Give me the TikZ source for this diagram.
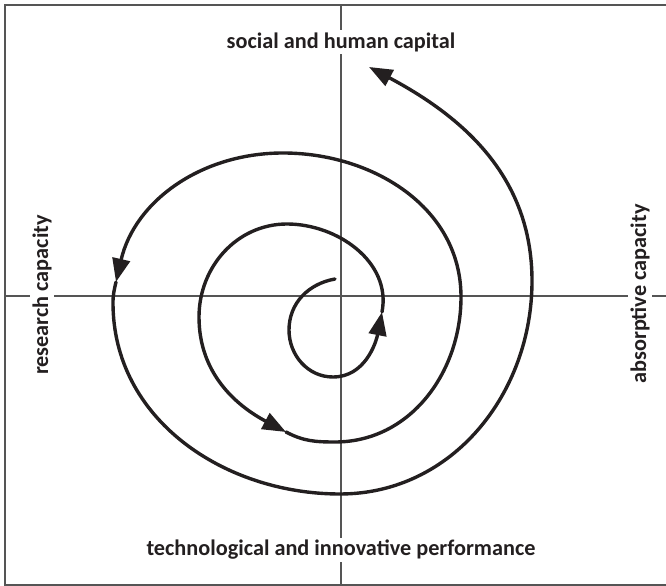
\documentclass[tikz,border=0pt]{standalone}
\usepackage{fontspec}
\setsansfont{Carlito}
\usetikzlibrary{arrows.meta}

\definecolor{inkblack}{HTML}{231F20}
\definecolor{axisgray}{HTML}{555555}

\tikzset{
    axislabel/.style={fill=white, inner sep=2pt, text=inkblack,
        font=\sffamily\bfseries\fontsize{19}{22}\selectfont},
    spiral/.style={line width=2.9pt, inkblack, line cap=round,
        -{Triangle[length=20pt,width=15pt]}}
}

\begin{document}
\begin{tikzpicture}[x=0.03cm, y=0.03cm]

    \useasboundingbox (0,0) rectangle (666,586);

    % Frame (open on the right side)
    \draw[axisgray, line width=1.3pt] (666,581) -- (5,581) -- (5,1) -- (666,1);

    % Axes
    \draw[axisgray, line width=0.9pt] (341,1) -- (341,581);
    \draw[axisgray, line width=0.9pt] (5,290) -- (666,290);

    % Labels on the four sides
    \node[axislabel] (social) at (341,544) {social and human capital};
    \node[axislabel] (techno) at (341,36) {technological and innovative performance};
    \node[axislabel, rotate=90] (research) at (42,291) {research capacity};
    \node[axislabel, rotate=90] (absorptive) at (640,292) {absorptive capacity};

    % Points of the spiral
    \coordinate (start) at (335,307);
    \coordinate (innerleft) at (289,256);
    \coordinate (innerbottom) at (333,209);
    \coordinate (tipA) at (382,274);
    \coordinate (secondtop) at (287,362);
    \coordinate (secondleft) at (199,269);
    \coordinate (tipB) at (286,154);
    \coordinate (secondbottom) at (335,144);
    \coordinate (thirdright) at (461,289);
    \coordinate (thirdtop) at (283,433);
    \coordinate (tipC) at (116,304);
    \coordinate (outerleft) at (113,283);
    \coordinate (outerbottom) at (340,92);
    \coordinate (outerright) at (532,305);
    \coordinate (tipD) at (369,519);

    % Spiral, drawn piece by piece up to each arrow
    \draw[spiral] (start) to[out=190,in=90] (innerleft)
        to[out=270,in=180] (innerbottom) to[out=0,in=259] (tipA);
    \draw[spiral] (tipA) to[out=79,in=0] (secondtop)
        to[out=180,in=90] (secondleft) to[out=270,in=152] (tipB);
    \draw[spiral] (tipB) to[out=-28,in=180] (secondbottom)
        to[out=0,in=270] (thirdright) to[out=90,in=0] (thirdtop)
        to[out=180,in=77] (tipC);
    \draw[spiral] (tipC) to[out=257,in=90] (outerleft)
        to[out=270,in=180] (outerbottom) to[out=0,in=270] (outerright)
        to[out=90,in=-28] (tipD);

\end{tikzpicture}
\end{document}
